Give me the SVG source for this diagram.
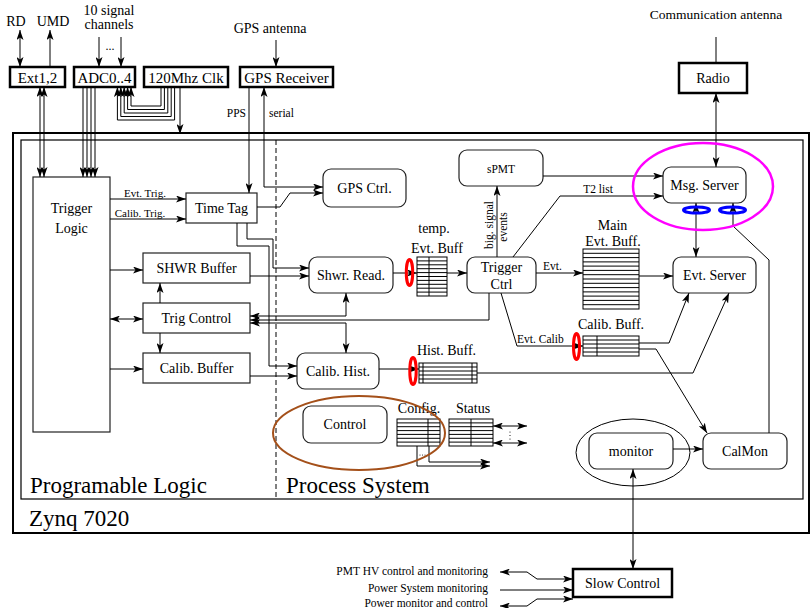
<svg xmlns="http://www.w3.org/2000/svg" width="810" height="608" viewBox="0 0 810 608" font-family="'Liberation Serif', 'DejaVu Serif', serif">
  <defs>
    <marker id="ah" viewBox="0 0 10 7" refX="10" refY="3.5" markerWidth="10" markerHeight="7" markerUnits="userSpaceOnUse" orient="auto-start-reverse">
      <path d="M0,0 L10,3.5 L0,7 L2.5,3.5 z" fill="#000"/>
    </marker>
    <style>
      text { font-family: 'Liberation Serif', 'DejaVu Serif', serif; fill: #000; }
      .t14 { font-size: 14px; text-anchor: middle; }
      .t15 { font-size: 15px; text-anchor: middle; }
      .t11 { font-size: 11px; }
      .big { font-size: 23px; }
      .box { fill: #fff; stroke: #222; stroke-width: 1.2; }
      .hbox { fill: #fff; stroke: #000; stroke-width: 2.5; }
      .rbox { fill: #fff; stroke: #222; stroke-width: 1.2; }
      .buf { fill: #fff; stroke: #000; stroke-width: 1; }
      .ln { fill: none; stroke: #000; stroke-width: 1; }
      .a1 { marker-end: url(#ah); }
      .a2 { marker-start: url(#ah); marker-end: url(#ah); }
      .red { fill: none; stroke: #ff0000; stroke-width: 3; }
      .blue { fill: none; stroke: #0000ff; stroke-width: 3; }
    </style>
  </defs>

  <!-- Zynq frame and the two halves -->
  <g id="zynq">
    <rect x="13" y="133" width="796" height="400" fill="none" stroke="#000" stroke-width="2"/>
    <rect x="21" y="140" width="782" height="359" fill="none" stroke="#000" stroke-width="1.2"/>
    <line x1="276" y1="140" x2="276" y2="499" stroke="#000" stroke-width="1" stroke-dasharray="5,3"/>
    <text class="big" x="30" y="493">Programable Logic</text>
    <text class="big" x="286" y="493">Process System</text>
    <text class="big" x="29" y="526">Zynq 7020</text>
  </g>

  <!-- external labels -->
  <g id="ext-labels">
    <text class="t14" x="16" y="26">RD</text>
    <text class="t14" x="53" y="26">UMD</text>
    <text class="t14" x="109" y="15">10 signal</text>
    <text class="t14" x="109" y="29">channels</text>
    <text class="t14" x="110" y="50" style="font-size:12px">...</text>
    <text class="t14" x="270" y="33">GPS antenna</text>
    <text class="t14" x="716" y="19" style="font-size:13.5px">Communication antenna</text>
    <text class="t11" x="246" y="117" text-anchor="end" style="font-size:11.5px">PPS</text>
    <text class="t11" x="269" y="117" style="font-size:11.5px">serial</text>
  </g>

  <!-- top row boxes -->
  <g id="ext12"><rect class="hbox" x="10" y="67" width="55" height="20"/><text class="t15" x="37.5" y="83">Ext1,2</text></g>
  <g id="adc"><rect class="hbox" x="74" y="67" width="61" height="20"/><text class="t15" x="104.5" y="83">ADC0..4</text></g>
  <g id="clk"><rect class="hbox" x="144" y="67" width="84" height="20"/><text class="t15" x="186" y="83">120Mhz Clk</text></g>
  <g id="gps-receiver"><rect class="hbox" x="240" y="67" width="93" height="20"/><text class="t15" x="286.5" y="83">GPS Receiver</text></g>
  <g id="radio"><rect class="hbox" x="679" y="63" width="68" height="30"/><text class="t14" x="713" y="83">Radio</text></g>

  <!-- programmable logic blocks -->
  <g id="trigger-logic"><rect class="box" x="33" y="177" width="77" height="255"/><text class="t14" x="71.5" y="213">Trigger</text><text class="t14" x="71.5" y="233">Logic</text></g>
  <g id="time-tag"><rect class="box" x="186" y="193" width="71" height="30"/><text class="t14" x="221.5" y="213">Time Tag</text></g>
  <g id="shwr-buffer"><rect class="box" x="143" y="253" width="107" height="30"/><text class="t14" x="196.5" y="273">SHWR Buffer</text></g>
  <g id="trig-control"><rect class="box" x="143" y="303" width="107" height="30"/><text class="t14" x="196.5" y="323">Trig Control</text></g>
  <g id="calib-buffer"><rect class="box" x="143" y="353" width="107" height="30"/><text class="t14" x="196.5" y="373">Calib. Buffer</text></g>

  <!-- processing system blocks -->
  <g id="gps-ctrl"><rect class="rbox" x="323" y="169" width="83" height="38" rx="8"/><text class="t14" x="364.5" y="193">GPS Ctrl.</text></g>
  <g id="shwr-read"><rect class="rbox" x="309" y="257" width="84" height="36" rx="8"/><text class="t14" x="351" y="280">Shwr. Read.</text></g>
  <g id="calib-hist"><rect class="rbox" x="297" y="353" width="82" height="36" rx="8"/><text class="t14" x="338" y="376">Calib. Hist.</text></g>
  <g id="spmt"><rect class="rbox" x="459" y="150" width="84" height="36" rx="8"/><text class="t14" x="501" y="173" style="font-size:11.5px">sPMT</text></g>
  <g id="trigger-ctrl"><rect class="rbox" x="467" y="257" width="69" height="36" rx="8"/><text class="t14" x="501.5" y="272">Trigger</text><text class="t14" x="501.5" y="289">Ctrl</text></g>
  <g id="msg-server"><rect class="rbox" x="663" y="167" width="83" height="36" rx="8"/><text class="t14" x="704.5" y="190">Msg. Server</text></g>
  <g id="evt-server"><rect class="rbox" x="673" y="257" width="83" height="36" rx="8"/><text class="t14" x="714.5" y="280">Evt. Server</text></g>
  <g id="control"><rect class="rbox" x="303" y="406" width="84" height="37" rx="8"/><text class="t14" x="345" y="429">Control</text></g>
  <g id="monitor"><ellipse cx="633" cy="452.5" rx="57" ry="33.5" fill="none" stroke="#000" stroke-width="1"/><rect class="rbox" x="589" y="433" width="84" height="36" rx="8"/><text class="t14" x="631" y="456">monitor</text></g>
  <g id="calmon"><rect class="rbox" x="703" y="433" width="84" height="36" rx="8"/><text class="t14" x="745" y="456">CalMon</text></g>
  <g id="slow-control"><rect class="hbox" x="573" y="569" width="99" height="28"/><text class="t14" x="622.5" y="588">Slow Control</text></g>

  <!-- buffers -->
  <g id="temp-evt-buff">
    <text class="t14" x="434" y="233">temp.</text>
    <text class="t14" x="437" y="253">Evt. Buff</text>
    <rect class="buf" x="417" y="257" width="30" height="39"/>
    <path class="ln" d="M417,260.9H447M417,264.8H447M417,268.7H447M417,272.6H447M417,276.5H447M417,280.4H447M417,284.3H447M417,288.2H447M417,292.1H447M429,257V296"/>
  </g>
  <g id="main-evt-buff">
    <text class="t14" x="612.5" y="230">Main</text>
    <text class="t14" x="613" y="246">Evt. Buff.</text>
    <rect class="buf" x="583" y="249" width="56" height="60"/>
    <path class="ln" d="M583,253.3H639M583,257.6H639M583,261.9H639M583,266.1H639M583,270.4H639M583,274.7H639M583,279H639M583,283.3H639M583,287.6H639M583,291.9H639M583,296.1H639M583,300.4H639M583,304.7H639"/>
  </g>
  <g id="calib-buff">
    <text class="t14" x="611" y="329">Calib. Buff.</text>
    <rect class="buf" x="583" y="336" width="56" height="20"/>
    <path class="ln" d="M583,340H639M583,344H639M583,348H639M583,352H639M597,336V356"/>
  </g>
  <g id="hist-buff">
    <text class="t14" x="446.5" y="355">Hist. Buff.</text>
    <rect class="buf" x="419" y="363" width="58" height="20"/>
    <path class="ln" d="M419,367H477M419,371H477M419,375H477M419,379H477M423,363V383M472,363V383"/>
  </g>
  <g id="config">
    <text class="t14" x="419" y="413">Config.</text>
    <rect class="buf" x="397" y="419" width="43" height="27"/>
    <path class="ln" d="M397,422.9H440M397,426.7H440M397,430.6H440M397,434.4H440M397,438.3H440M397,442.1H440M428,419V446"/>
  </g>
  <g id="status">
    <text class="t14" x="473" y="413">Status</text>
    <rect class="buf" x="449" y="419" width="44" height="27"/>
    <path class="ln" d="M449,422.9H493M449,426.7H493M449,430.6H493M449,434.4H493M449,438.3H493M449,442.1H493M471,419V446"/>
  </g>

  <!-- connectors -->
  <g id="connectors">
    <path class="ln a2" d="M20,30V67"/>
    <path class="ln a1" d="M50,67V30"/>
    <path class="ln a1" d="M99,37V67"/>
    <path class="ln a1" d="M121,37V67"/>
    <path class="ln a1" d="M276,40V67"/>
    <path class="ln" d="M716,37V63"/>
    <path class="ln a2" d="M716,93V167"/>

    <path class="ln a2" d="M40,87V177"/>
    <path class="ln a2" d="M44,87V177"/>
    <path class="ln a1" d="M83,87V177"/>
    <path class="ln a1" d="M87,87V177"/>
    <path class="ln a1" d="M91,87V177"/>
    <path class="ln a1" d="M95,87V177"/>

    <path class="ln a1" d="M161,87V106H131V87"/>
    <path class="ln a1" d="M164.4,87V109.5H127.6V87"/>
    <path class="ln a1" d="M167.8,87V113H124.2V87"/>
    <path class="ln a1" d="M171.2,87V116.5H120.8V87"/>
    <path class="ln a1" d="M174.6,87V120H117.4V87"/>
    <path class="ln a1" d="M180,87V134"/>

    <path class="ln a1" d="M249,87V193"/>
    <path class="ln a2" d="M264,87V187H323"/>
    <path class="ln a1" d="M257,207H280L290,193H323"/>

    <path class="ln a1" d="M110,199H186"/>
    <path class="ln a1" d="M110,219H186"/>
    <text class="t11" x="145" y="196.5" text-anchor="middle">Evt. Trig.</text>
    <text class="t11" x="140" y="216.5" text-anchor="middle">Calib. Trig.</text>
    <path class="ln a1" d="M110,270H143"/>
    <path class="ln a2" d="M110,319H143"/>
    <path class="ln a1" d="M110,369H143"/>
    <path class="ln a1" d="M160,303V283"/>
    <path class="ln a1" d="M160,333V353"/>

    <path class="ln a1" d="M247,223V239H273V268H309"/>
    <path class="ln a1" d="M237,223V246H269V366H297"/>
    <path class="ln a1" d="M250,276H309"/>
    <path class="ln a1" d="M250,376H297"/>
    <path class="ln a2" d="M346,293V316H250"/>
    <path class="ln a2" d="M250,323H346V353"/>
    <path class="ln a1" d="M489,293V320H250"/>

    <path class="ln a1" d="M393,273H417"/>
    <path class="ln a1" d="M447,273H467"/>
    <path class="ln a1" d="M497,257V186"/>
    <text class="t11" transform="translate(493,225) rotate(-90)" text-anchor="middle" style="font-size:11.5px">big. signal</text>
    <text class="t11" transform="translate(507,227) rotate(-90)" text-anchor="middle" style="font-size:11.5px">events</text>
    <path class="ln a1" d="M543,176H663"/>
    <path class="ln a1" d="M513,257L560,196H663"/>
    <text class="t11" x="598" y="193" text-anchor="middle" style="font-size:11.5px">T2 list</text>
    <path class="ln a1" d="M536,273H583"/>
    <text class="t11" x="552.5" y="270" text-anchor="middle" style="font-size:11.5px">Evt.</text>
    <path class="ln a1" d="M639,276H673"/>
    <path class="ln a2" d="M696,203V257"/>

    <path class="ln a1" d="M501,293L517,346H583"/>
    <text class="t11" x="517" y="342.5" style="font-size:11.5px">Evt. Calib</text>
    <path class="ln a1" d="M639,343H669L689,293"/>
    <path class="ln a1" d="M639,349H656L707,433"/>
    <path class="ln a1" d="M379,369H419"/>
    <path class="ln a1" d="M477,373H693L729,293"/>
    <path class="ln a1" d="M769,433V260L733,226V203"/>
    <path class="ln a1" d="M673,449H703"/>
    <path class="ln a2" d="M633,469V569"/>

    <path class="ln a2" d="M493,426H527"/>
    <path class="ln a2" d="M493,443H527"/>
    <circle cx="510" cy="432" r="0.6"/>
    <circle cx="510" cy="435.5" r="0.6"/>
    <circle cx="510" cy="439" r="0.6"/>
    <path class="ln a1" d="M429,446V462H490"/>
    <path class="ln a1" d="M417,446V466H490"/>
    <circle cx="420" cy="455" r="0.5"/>
    <circle cx="422.5" cy="455" r="0.5"/>
    <circle cx="425" cy="455" r="0.5"/>

    <path class="ln a2" d="M500,572H527L537,579H573"/>
    <path class="ln a1" d="M500,590H573"/>
    <path class="ln a2" d="M500,606H527L537,599H573"/>
    <text class="t11" x="488" y="575" text-anchor="end" style="font-size:11.5px">PMT HV control and monitoring</text>
    <text class="t11" x="488" y="591.5" text-anchor="end" style="font-size:11.5px">Power System monitoring</text>
    <text class="t11" x="488" y="606.5" text-anchor="end" style="font-size:11.5px">Power monitor and control</text>
  </g>

  <!-- highlight rings -->
  <g id="highlights">
    <ellipse class="red" cx="409.5" cy="272.5" rx="3.2" ry="13"/>
    <ellipse class="red" cx="413" cy="371" rx="3.2" ry="13.5"/>
    <ellipse class="red" cx="576.5" cy="346.5" rx="3" ry="13"/>
    <ellipse cx="703" cy="186.5" rx="70" ry="43.5" fill="none" stroke="#ff00ff" stroke-width="2.5"/>
    <ellipse class="blue" cx="696.5" cy="210" rx="13" ry="3"/>
    <ellipse class="blue" cx="732.5" cy="210" rx="13" ry="3"/>
    <ellipse cx="359" cy="433" rx="86" ry="37" fill="none" stroke="#a4501a" stroke-width="2"/>
  </g>
</svg>
